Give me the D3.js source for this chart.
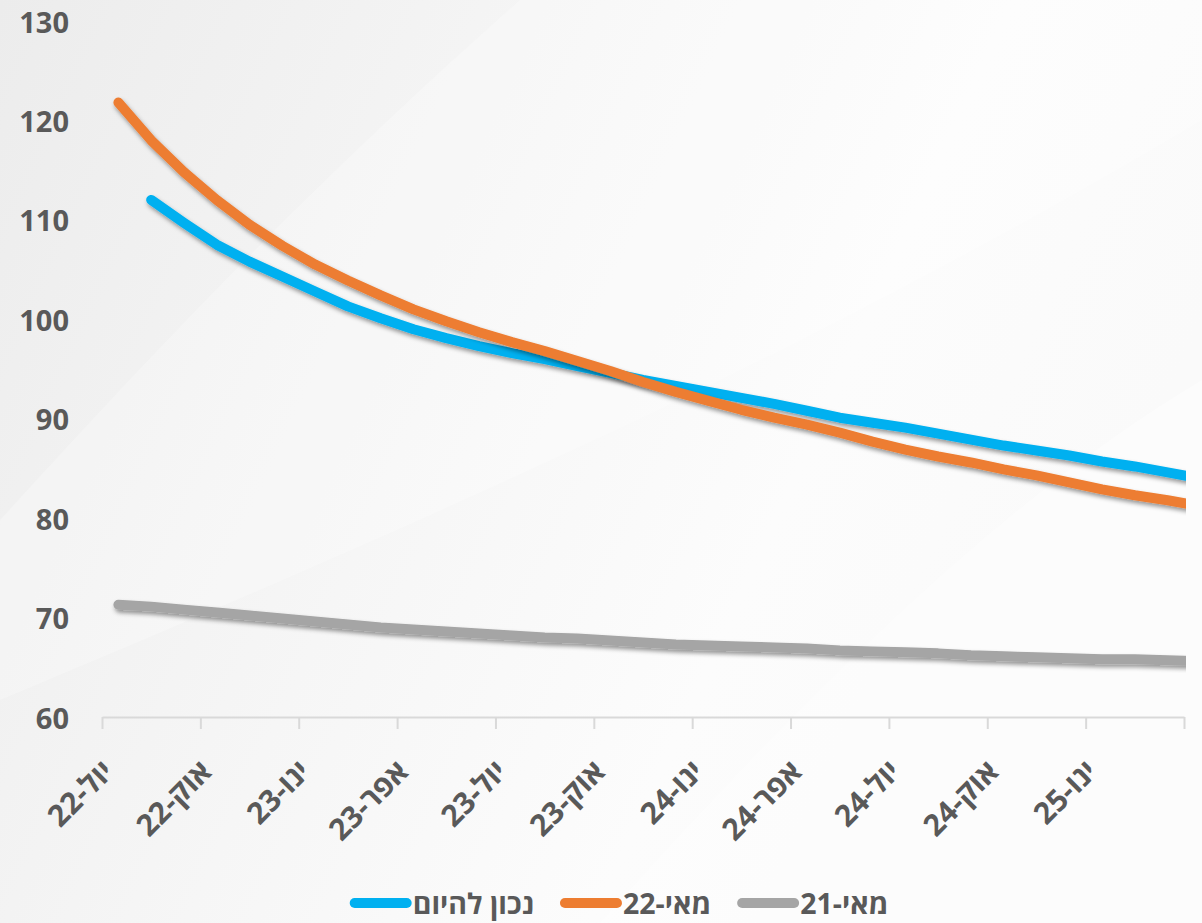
<!DOCTYPE html>
<html>
<head>
<meta charset="utf-8">
<script src="https://cdn.jsdelivr.net/npm/d3@7/dist/d3.min.js"></script>
<style>
  html, body { margin: 0; padding: 0; background: #f3f3f3; }
  svg { display: block; }
  text { font-family: "Open Sans", "Liberation Sans", "DejaVu Sans", sans-serif; font-weight: 700; fill: #595959; }
</style>
</head>
<body>
<svg id="chart" width="1202" height="923"></svg>
<script>
// Monthly categories (the last one runs past the right edge of the plot)
const months = ["יול-22","אוג-22","ספט-22","אוק-22","נוב-22","דצמ-22","ינו-23","פבר-23","מרץ-23",
  "אפר-23","מאי-23","יונ-23","יול-23","אוג-23","ספט-23","אוק-23","נוב-23","דצמ-23","ינו-24",
  "פבר-24","מרץ-24","אפר-24","מאי-24","יונ-24","יול-24","אוג-24","ספט-24","אוק-24","נוב-24",
  "דצמ-24","ינו-25","פבר-25","מרץ-25","אפר-25"];
const visibleMonths = 33;

// Series
const seriesNames = ["נכון להיום", "מאי-22", "מאי-21"];
const seriesColors = ["#00b0f0", "#ed7d31", "#a5a5a5"];
const currentValues = [null, 112.0, 109.7, 107.5, 105.8, 104.3, 102.8, 101.3, 100.1, 99.0, 98.1, 97.3,
  96.6, 96.0, 95.3, 94.6, 93.9, 93.3, 92.7, 92.1, 91.5, 90.8, 90.1, 89.6, 89.1, 88.5, 87.9, 87.3,
  86.8, 86.3, 85.7, 85.2, 84.6, 84.0];
const may22Values = [121.8, 118.0, 114.8, 112.0, 109.5, 107.4, 105.5, 103.9, 102.4, 101.0, 99.8, 98.7,
  97.7, 96.8, 95.8, 94.8, 93.7, 92.7, 91.8, 90.9, 90.1, 89.4, 88.6, 87.7, 86.9, 86.2, 85.6, 84.9,
  84.3, 83.6, 82.9, 82.3, 81.8, 81.2];
const may21Values = [71.3, 71.1, 70.8, 70.5, 70.2, 69.9, 69.6, 69.3, 69.0, 68.8, 68.6, 68.4,
  68.2, 68.0, 67.9, 67.7, 67.5, 67.3, 67.2, 67.1, 67.0, 66.9, 66.7, 66.6, 66.5, 66.4, 66.2, 66.1,
  66.0, 65.9, 65.8, 65.8, 65.7, 65.6];
const seriesValues = [currentValues, may22Values, may21Values];

// Axis ticks
const yTicks = [60, 70, 80, 90, 100, 110, 120, 130];
const labelEvery = 3;

const svg = d3.select("#chart");
const W = 1202, H = 923;
const plot = { left: 102, right: 1184, top: 21, bottom: 717 };

// Background
const defs = svg.append("defs");
const bg = defs.append("linearGradient").attr("id", "bg")
  .attr("x1", "0").attr("y1", "0").attr("x2", "1").attr("y2", "0.35");
bg.append("stop").attr("offset", "0%").attr("stop-color", "#ececec");
bg.append("stop").attr("offset", "45%").attr("stop-color", "#f6f6f6");
bg.append("stop").attr("offset", "75%").attr("stop-color", "#fcfcfc");
bg.append("stop").attr("offset", "100%").attr("stop-color", "#fafafa");
svg.append("rect").attr("width", W).attr("height", H).attr("fill", "url(#bg)");

// Soft light sheets in the backdrop
svg.append("path").attr("d", "M0,520 C200,300 350,150 520,0 L1202,0 L1202,120 C900,300 600,450 0,700 Z")
  .attr("fill", "#ffffff").attr("opacity", 0.25);
svg.append("path").attr("d", "M600,923 C800,700 1000,500 1202,380 L1202,923 Z")
  .attr("fill", "#ffffff").attr("opacity", 0.4);

// Shadow under the lines
const shadow = defs.append("filter").attr("id", "shadow")
  .attr("x", "-5%").attr("y", "-20%").attr("width", "110%").attr("height", "140%");
shadow.append("feDropShadow").attr("dx", 1.5).attr("dy", 3).attr("stdDeviation", 2)
  .attr("flood-color", "#000").attr("flood-opacity", 0.4);

defs.append("clipPath").attr("id", "plotClip").append("rect")
  .attr("x", 0).attr("y", 0).attr("width", plot.right + 2).attr("height", H);

// Scales: boundaries of the monthly categories, and values
const xEdge = d3.scaleLinear().domain([0, visibleMonths]).range([plot.left, plot.right]);
const xc = i => xEdge(i + 0.5);
const y = d3.scaleLinear().domain([60, 130]).range([plot.bottom, plot.top]);

// Y tick labels
svg.append("g").selectAll("text").data(yTicks).join("text")
  .attr("x", 69).attr("y", d => y(d))
  .attr("text-anchor", "end").attr("dominant-baseline", "central")
  .attr("font-size", 29).text(d => d);

// X axis with tick marks every quarter
const xAxis = d3.axisBottom(xEdge)
  .tickValues(d3.range(0, visibleMonths + 1, labelEvery))
  .tickSize(12).tickSizeOuter(0).tickFormat("");
const gx = svg.append("g").attr("transform", `translate(0,${plot.bottom})`).call(xAxis);
gx.select(".domain").attr("stroke", "#d9d9d9").attr("stroke-width", 2);
gx.selectAll(".tick line").attr("stroke", "#d9d9d9").attr("stroke-width", 2);

// Rotated category labels: right end of each label sits just under its month
const labelIdx = d3.range(0, visibleMonths - 2, labelEvery);
const labels = svg.append("g").selectAll("g").data(labelIdx).join("g")
  .attr("transform", i => `translate(${xc(i) - 11},765) rotate(-45)`);
labels.append("text")
  .attr("x", 0).attr("y", 0)
  .attr("dominant-baseline", "central")
  .attr("font-size", 30).text(i => months[i])
  .each(function () {
    const b = this.getBBox();
    d3.select(this).attr("x", -(b.x + b.width));
  });

// Lines
const line = d3.line()
  .defined(d => d != null)
  .x((d, i) => xc(i))
  .y(d => y(d));

svg.append("g").attr("clip-path", "url(#plotClip)")
  .selectAll("path").data(seriesValues).join("path")
  .attr("d", d => line(d))
  .attr("fill", "none")
  .attr("stroke", (d, i) => seriesColors[i])
  .attr("stroke-width", 10)
  .attr("stroke-linecap", "round")
  .attr("stroke-linejoin", "round")
  .attr("filter", "url(#shadow)");

// Legend
const legend = svg.append("g");
let cursor = 0;
const markerLen = 52, gapText = 1, gapItem = 26;
seriesNames.forEach((name, i) => {
  const g = legend.append("g");
  g.append("line")
    .attr("x1", cursor + 5).attr("x2", cursor + markerLen + 5)
    .attr("y1", 0).attr("y2", 0)
    .attr("stroke", seriesColors[i]).attr("stroke-width", 10).attr("stroke-linecap", "round");
  const t = g.append("text")
    .attr("x", cursor + markerLen + 10 + gapText).attr("y", 0)
    .attr("dominant-baseline", "central").attr("font-size", 28.5).text(name);
  cursor += markerLen + 10 + gapText + t.node().getComputedTextLength() + gapItem;
});
const legendWidth = cursor - gapItem;
legend.attr("transform", `translate(${619 - legendWidth / 2},903)`);
</script>
</body>
</html>
